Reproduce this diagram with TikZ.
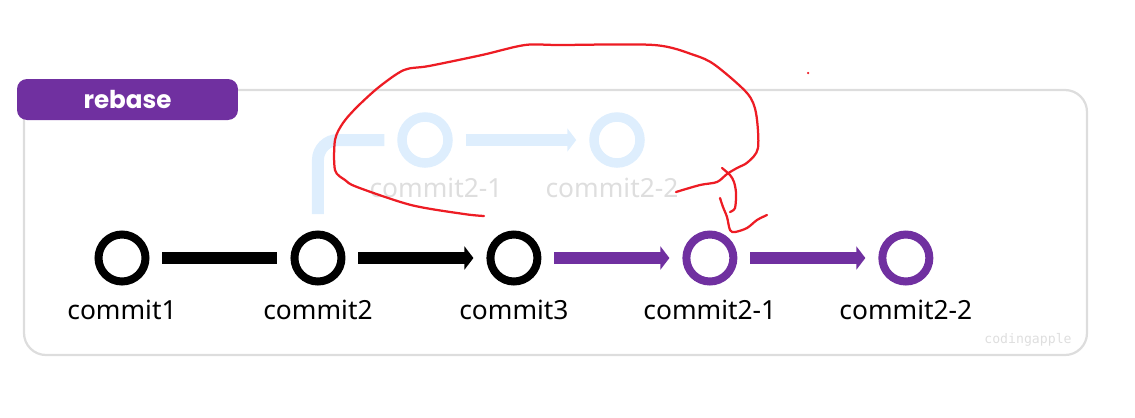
\documentclass[tikz,border=0pt]{standalone}
\usepackage{fontspec}
\setmainfont{Noto Sans}
\newfontfamily\tabfont{Poppins}
\newfontfamily\markfont{DejaVu Sans Mono}
\usetikzlibrary{positioning, arrows.meta}

\definecolor{rebasepurple}{RGB}{112,48,160}
\definecolor{ghostblue}{RGB}{222,238,253}
\definecolor{ghostgray}{RGB}{222,222,222}
\definecolor{framegray}{RGB}{221,221,221}
\definecolor{penred}{RGB}{237,28,36}

\begin{document}
\begin{tikzpicture}[x=0.02cm, y=-0.02cm, font=\fontsize{15}{18}\selectfont,
    commit/.style={circle, draw, line width=0.16cm, minimum size=0.94cm, inner sep=0pt},
    ghost/.style={circle, draw=ghostblue, line width=0.19cm, minimum size=0.92cm, inner sep=0pt},
    bar/.style={line width=0.24cm, shorten <=0.26cm, shorten >=0.26cm},
    tip/.style={-{Triangle[length=0.18cm, width=0.46cm]}},
    scribble/.style={penred, line width=0.045cm, line cap=round, line join=round}]

\useasboundingbox (0,0) rectangle (1135,417);

% frame and tab
\draw[framegray, line width=0.045cm, rounded corners=0.44cm] (24,90) rectangle (1087,355);
\node[fill=rebasepurple, text=white, rounded corners=0.2cm, minimum width=4.42cm, minimum height=0.82cm,
      font=\tabfont\fontsize{14}{16}\selectfont\bfseries] (rebase-tab) at (127.5,99.5) {rebase};

% old branch (faded)
\node[ghost] (ghost-a) at (425,140) {};
\node[ghost] (ghost-b) at (617,140) {};
\node[text=ghostgray, inner sep=0pt] (ghost-a-label) at (436,188) {commit2-1};
\node[text=ghostgray, inner sep=0pt] (ghost-b-label) at (612,188) {commit2-2};

% main line
\begin{scope}[node distance = 2.82cm]
\node[commit] (commit1) at (122,258) {};
\node[commit, right = of commit1] (commit2) {};
\node[commit, right = of commit2] (commit3) {};
\node[commit, draw=rebasepurple, right = of commit3] (commit2-1) {};
\node[commit, draw=rebasepurple, right = of commit2-1] (commit2-2) {};
\end{scope}

\begin{scope}[node distance = 0.28cm, inner sep=0pt]
\node[below = of commit1] (commit1-label) {commit1};
\node[below = of commit2] (commit2-label) {commit2};
\node[below = of commit3] (commit3-label) {commit3};
\node[below = of commit2-1] (commit2-1-label) {commit2-1};
\node[below = of commit2-2] (commit2-2-label) {commit2-2};
\end{scope}

\coordinate (ghost-root) at ([yshift=0.33cm]commit2.north);

\draw[bar, shorten <=0pt, ghostblue, rounded corners=0.4cm] (ghost-root) |- (ghost-a);
\draw[bar, tip, ghostblue] (ghost-a) -- (ghost-b);

\draw[bar] (commit1) -- (commit2);
\draw[bar, tip] (commit2) -- (commit3);
\draw[bar, tip, rebasepurple] (commit3) -- (commit2-1);
\draw[bar, tip, rebasepurple] (commit2-1) -- (commit2-2);

\node[text=ghostgray, font=\markfont\fontsize{7.5}{9}\selectfont] (watermark) at (1028,340) {codingapple};

% red pen marks
\draw[scribble] plot[smooth, tension=0.5] coordinates {(484,216) (464,214) (411,205) (357,187) (345,180)
  (335,170) (335,140) (343,123) (357,107) (379,87) (404,70) (429,66) (482,55) (525,45) (560,45) (654,45)
  (694,55) (715,65) (747,93) (756,113) (758,148) (748,162) (737,168) (727,174) (717,182) (700,185) (676,192)};
\draw[scribble] plot[smooth, tension=0.5] coordinates {(722,168) (730,175) (734,182) (736,193) (735,208) (730,212)};
\draw[scribble] plot[smooth, tension=0.5] coordinates {(720,198) (723,207) (727,217) (730,230) (735,232)
  (747,228) (757,220) (767,215)};
\fill[penred] (808,73) circle[radius=0.025cm];

\end{tikzpicture}
\end{document}
